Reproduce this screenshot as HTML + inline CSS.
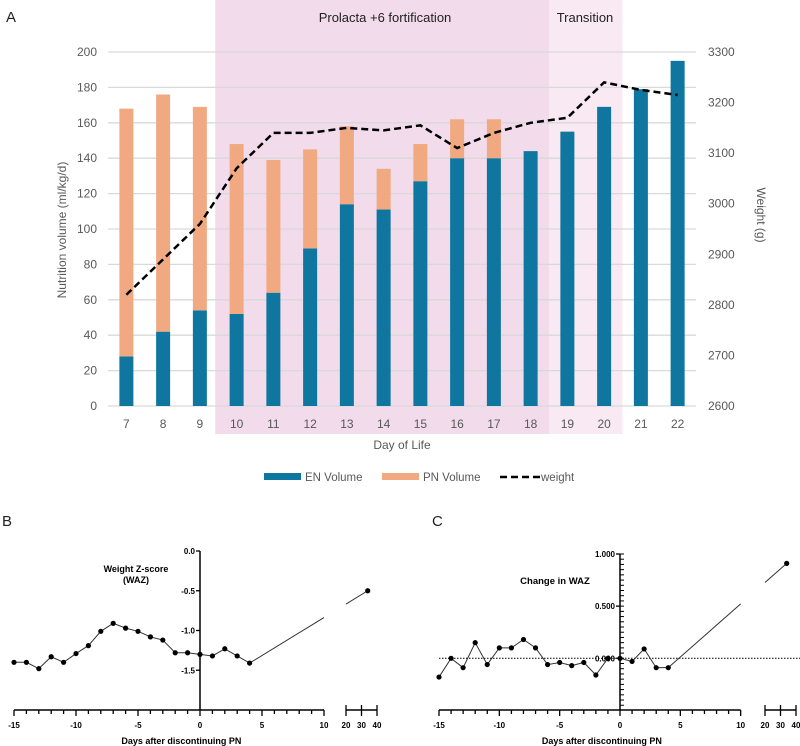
<!DOCTYPE html>
<html><head><meta charset="utf-8"><style>
body{margin:0;background:#fff;}
svg{display:block;font-family:"Liberation Sans",sans-serif;}
</style></head><body>
<svg id="chart" width="800" height="746" xmlns="http://www.w3.org/2000/svg"></svg>
<script>
const days=[7,8,9,10,11,12,13,14,15,16,17,18,19,20,21,22];
const enVol=[28,42,54,52,64,89,114,111,127,140,140,144,155,169,179,195];
const pnVol=[140,134,115,96,75,56,44,23,21,22,22,0,0,0,0,0];
const weight=[2820,2890,2960,3070,3140,3140,3150,3145,3155,3110,3140,3160,3170,3240,3225,3215];
const leftTicks=[0,20,40,60,80,100,120,140,160,180,200];
const rightTicks=[2600,2700,2800,2900,3000,3100,3200,3300];
const bDays=[-15,-14,-13,-12,-11,-10,-9,-8,-7,-6,-5,-4,-3,-2,-1,0,1,2,3,4,34];
const bWaz=[-1.4,-1.4,-1.48,-1.33,-1.4,-1.29,-1.19,-1.01,-0.91,-0.97,-1.01,-1.08,-1.12,-1.28,-1.28,-1.3,-1.32,-1.23,-1.32,-1.41,-0.5];
const cDays=[-15,-14,-13,-12,-11,-10,-9,-8,-7,-6,-5,-4,-3,-2,-1,0,1,2,3,4,34];
const cChg=[-0.18,0,-0.09,0.15,-0.06,0.1,0.1,0.18,0.1,-0.06,-0.04,-0.07,-0.04,-0.16,0,0,-0.03,0.09,-0.09,-0.09,0.91];
const bYTicks=[0,-0.5,-1.0,-1.5];
const cYTicks=[1,0.5,0];
const xTicksMain=[-15,-10,-5,0,5,10];
const xTicksBreak=[20,30,40];

const svg=document.getElementById('chart');
const NS='http://www.w3.org/2000/svg';
function el(tag,attrs,parent,text){const e=document.createElementNS(NS,tag);for(const k in attrs)e.setAttribute(k,attrs[k]);if(text!==undefined)e.textContent=text;(parent||svg).appendChild(e);return e;}

// Panel A
const gA=el('g',{});


const x0=108,x1=696,yTop=52,yBot=406;
const bw=(x1-x0)/days.length;
const xc=i=>x0+bw*(i+0.5);
const yL=v=>yBot-(v/200)*(yBot-yTop);
const yR=v=>yBot-((v-2600)/700)*(yBot-yTop);
let r=el('rect',{x:xc(3)-bw/2-3,y:0,width:xc(11)-xc(3)+bw+3,height:434,fill:'#f2dbea'},gA);

r=el('rect',{x:xc(12)-bw/2,y:0,width:bw*2,height:434,fill:'#f8e9f2'},gA);

let t=el('text',{x:385,y:22,'text-anchor':'middle','font-size':13,fill:'#222'},gA,'Prolacta +6 fortification');

t=el('text',{x:585,y:22,'text-anchor':'middle','font-size':13,fill:'#222'},gA,'Transition');

t=el('text',{x:6,y:22,'font-size':15,fill:'#222'},gA,'A');

leftTicks.forEach(v=>{
  const g=el('line',{x1:x0,x2:x1,y1:yL(v),y2:yL(v),stroke:'#d9d9d9','stroke-width':1.3},gA);
  
  const tt=el('text',{x:97,y:yL(v)+4,'text-anchor':'end','font-size':12,fill:'#595959'},gA,String(v));
  
});
rightTicks.forEach(v=>{
  const tt=el('text',{x:708,y:yR(v)+4,'font-size':12,fill:'#595959'},gA,String(v));
  
});
days.forEach((d,i)=>{
  const b=el('rect',{x:xc(i)-7,y:yL(enVol[i]),width:14,height:yL(0)-yL(enVol[i]),fill:'#0f769f'},gA);
  
  if(pnVol[i]>0){
    const p=el('rect',{x:xc(i)-7,y:yL(enVol[i]+pnVol[i]),width:14,height:yL(enVol[i])-yL(enVol[i]+pnVol[i]),fill:'#f1a982'},gA);
    
  }
  const tt=el('text',{x:xc(i),y:428,'text-anchor':'middle','font-size':12,fill:'#595959'},gA,String(d));
  
});
const wl=el('polyline',{points:weight.map((w,i)=>xc(i)+','+yR(w)).join(' '),fill:'none',stroke:'#000','stroke-width':2.5,'stroke-dasharray':'7 4'},gA);

t=el('text',{x:402,y:449,'text-anchor':'middle','font-size':12,fill:'#595959'},gA,'Day of Life');

t=el('text',{x:0,y:0,'text-anchor':'middle','font-size':12,fill:'#595959',transform:'translate(66,230) rotate(-90)'},gA,'Nutrition volume (ml/kg/d)');

t=el('text',{x:0,y:0,'text-anchor':'middle','font-size':12,fill:'#595959',transform:'translate(757,215) rotate(90)'},gA,'Weight (g)');

// legend
let lg=el('g',{},gA);
let s=el('rect',{x:264,y:473,width:37,height:7,fill:'#0f769f'},lg);
t=el('text',{x:305,y:481,'font-size':11.5,fill:'#595959'},lg,'EN Volume');
s=el('rect',{x:382,y:473,width:37,height:7,fill:'#f1a982'},lg);
t=el('text',{x:423,y:481,'font-size':11.5,fill:'#595959'},lg,'PN Volume');
s=el('line',{x1:500,x2:540,y1:477,y2:477,stroke:'#000','stroke-width':2.5,'stroke-dasharray':'7 4'},lg);
t=el('text',{x:541,y:481,'font-size':11.5,fill:'#595959'},lg,'weight');

// Panels B and C
function panel(cfg){
  const g=el('g',{});
  
  
  const xm=d=>cfg.xA+(d+15)*(cfg.x0-cfg.xA)/15;
  const xb=d=>cfg.b20+(d-20)*(cfg.b40-cfg.b20)/20;
  const ys=v=>cfg.y0+(v-cfg.v0)*cfg.k;
  const ax=cfg.yAxisBot;
  let lab=el('text',{x:cfg.labX,y:526,'font-size':15,fill:'#222'},g,cfg.letter);
  
  let l=el('line',{x1:xm(-15),x2:xm(10),y1:ax,y2:ax,stroke:'#000','stroke-width':1.5},g);
  
  for(let d=-15;d<=10;d++){
    const tk=el('line',{x1:xm(d),x2:xm(d),y1:ax,y2:ax+(d%5===0?6:4),stroke:'#000','stroke-width':1.3},g);
    
  }
  xTicksMain.forEach(d=>{const tt=el('text',{x:xm(d),y:ax+18,'text-anchor':'middle','font-size':8,'font-weight':'bold',fill:'#000'},g,String(d));});
  l=el('line',{x1:xb(20),x2:xb(40),y1:ax,y2:ax,stroke:'#000','stroke-width':1.5},g);
  
  xTicksBreak.forEach(d=>{
    const tk=el('line',{x1:xb(d),x2:xb(d),y1:ax-5,y2:ax+6,stroke:'#000','stroke-width':1.3},g);
    
    const tt=el('text',{x:xb(d),y:ax+18,'text-anchor':'middle','font-size':8,'font-weight':'bold',fill:'#000'},g,String(d));
    
  });
  l=el('line',{x1:xm(0),x2:xm(0),y1:cfg.yAxisTop,y2:ax,stroke:'#000','stroke-width':1.5},g);
  
  if(cfg.minor){for(let v=cfg.minorFrom;v<=1.0001;v+=0.05){const tk=el('line',{x1:xm(0),x2:xm(0)+4,y1:ys(v),y2:ys(v),stroke:'#000','stroke-width':1},g);}}
  cfg.yTicks.forEach(v=>{
    const tk=el('line',{x1:xm(0)-4,x2:xm(0),y1:ys(v),y2:ys(v),stroke:'#000','stroke-width':1.3},g);
    
    const tt=el('text',{x:xm(0)-5,y:ys(v)+3,'text-anchor':'end','font-size':8,'font-weight':'bold',fill:'#000'},g,cfg.fmt(v));
    
  });
  if(cfg.refLine){l=el('line',{x1:xm(-15),x2:xm(10)+60,y1:ys(0),y2:ys(0),stroke:'#000','stroke-width':1,'stroke-dasharray':'1.5 1.5'},g);}
  const n=cfg.dx.length;
  const pts=[];for(let i=0;i<n-1;i++)pts.push(xm(cfg.dx[i])+','+ys(cfg.vy[i]));
  // last segment interpolated in pixel space across the axis break
  const pxL=xm(cfg.dx[n-2]),pyL=ys(cfg.vy[n-2]),pxE=xb(cfg.dx[n-1]),pyE=ys(cfg.vy[n-1]);
  const yAt=px=>pyL+(pyE-pyL)*(px-pxL)/(pxE-pxL);
  pts.push(xm(10)+','+yAt(xm(10)));
  l=el('polyline',{points:pts.join(' '),fill:'none',stroke:'#333','stroke-width':1},g);
  
  l=el('line',{x1:xb(20),y1:yAt(xb(20)),x2:pxE,y2:pyE,stroke:'#333','stroke-width':1},g);
  
  for(let i=0;i<n;i++){
    const cx=i===n-1?xb(cfg.dx[i]):xm(cfg.dx[i]);
    const c=el('circle',{cx:cx,cy:ys(cfg.vy[i]),r:2.6,fill:'#000'},g);
    
  }
  cfg.title.forEach((tx,j)=>{const tt=el('text',{x:cfg.titleX,y:cfg.titleY+j*11,'text-anchor':'middle','font-size':cfg.titleSize,'font-weight':'bold',fill:'#000'},g,tx);});
  const xt=el('text',{x:xm(0)-(xm(0)-xm(-15))*0.1,y:ax+34,'text-anchor':'middle','font-size':9,'font-weight':'bold',fill:'#000'},g,'Days after discontinuing PN');
  
}
panel({name:'panel-b',letter:'B',labX:2,xA:14,x0:200,b20:346,b40:377,y0:551,v0:0,k:-79.5,yAxisTop:551,yAxisBot:710,yTicks:bYTicks,fmt:v=>v.toFixed(1),minor:false,refLine:false,dx:bDays,vy:bWaz,title:['Weight Z-score','(WAZ)'],titleX:136,titleY:572,titleSize:9});
panel({name:'panel-c',letter:'C',labX:432,xA:439,x0:620,b20:765,b40:796,y0:658.3,v0:0,k:-104.3,yAxisTop:554,yAxisBot:710,yTicks:cYTicks,fmt:v=>v.toFixed(3),minor:true,minorFrom:-0.45,refLine:true,dx:cDays,vy:cChg,title:['Change in WAZ'],titleX:555,titleY:584,titleSize:9.5});
</script>
</body></html>
